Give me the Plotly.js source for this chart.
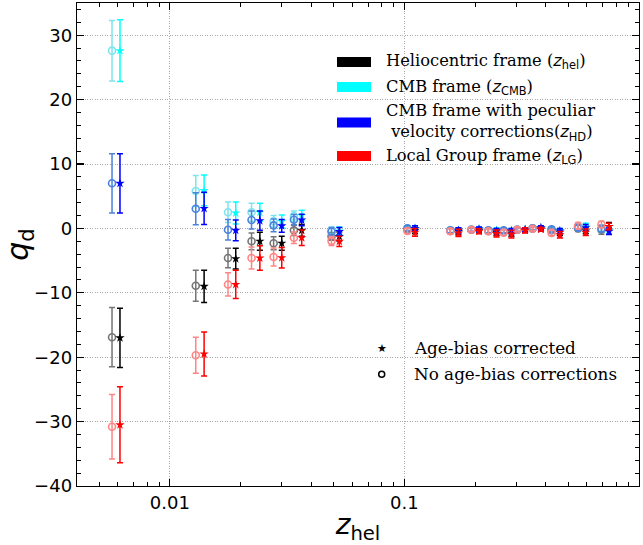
<!DOCTYPE html>
<html>
<head>
<meta charset="utf-8">
<script src="https://cdn.plot.ly/plotly-3.0.1.min.js"></script>
<style>html,body{margin:0;padding:0;background:#fff;}#chart{width:643px;height:545px;}</style>
</head>
<body>
<div id="chart"></div>
<script>
// redshift bins (no age-bias circles slightly left, age-bias stars slightly right)
const zCircle = [0.00567, 0.0129, 0.0177, 0.0223, 0.0277, 0.0338, 0.0489, 0.103, 0.157, 0.193, 0.228, 0.265, 0.303, 0.352, 0.424, 0.55, 0.692];
const zStar   = [0.00613, 0.0140, 0.0191, 0.0242, 0.0300, 0.0365, 0.0528, 0.111, 0.170, 0.208, 0.247, 0.286, 0.327, 0.382, 0.460, 0.593, 0.745];

// Heliocentric frame
const helNoAge    = [-16.9, -8.9, -4.6, -2.0, -2.3, -0.3, -1.24, -0.2, -0.4, -0.2, -0.4, -0.5, -0.2, 0.0, -0.3, 0.0, -0.2];
const helNoAgeErr = [4.6, 2.4, 1.5, 1.3, 1.0, 0.8, 0.6, 0.4, 0.4, 0.3, 0.4, 0.4, 0.3, 0.3, 0.4, 0.5, 0.7];
const helAge      = [-17.0, -9.0, -4.7, -2.0, -2.3, -0.3, -1.24, -0.3, -0.5, -0.3, -0.6, -0.7, -0.2, -0.1, -0.6, -0.3, 0.3];
const helAgeErr   = [4.6, 2.5, 1.6, 1.4, 1.1, 0.9, 0.7, 0.5, 0.5, 0.3, 0.5, 0.5, 0.3, 0.3, 0.5, 0.5, 0.6];

// CMB frame
const cmbNoAge    = [27.6, 5.8, 2.5, 2.5, 1.1, 1.9, -0.4, 0.0, -0.3, -0.2, -0.4, -0.4, -0.2, 0.0, -0.2, 0.2, 0.0];
const cmbNoAgeErr = [4.7, 2.4, 1.6, 1.4, 0.9, 0.8, 0.6, 0.4, 0.4, 0.3, 0.4, 0.4, 0.3, 0.3, 0.4, 0.5, 0.5];
const cmbAge      = [27.6, 5.9, 2.4, 2.5, 1.1, 2.0, -0.4, 0.0, -0.3, -0.1, -0.3, -0.4, -0.2, 0.1, -0.4, 0.3, -0.3];
const cmbAgeErr   = [4.8, 2.4, 1.7, 1.4, 1.0, 0.8, 0.6, 0.4, 0.4, 0.3, 0.4, 0.4, 0.3, 0.3, 0.4, 0.5, 0.5];

// CMB frame with peculiar velocity corrections
const hdNoAge     = [7.0, 3.05, -0.2, 1.3, 0.47, 1.35, -0.47, 0.0, -0.3, -0.2, -0.3, -0.3, -0.2, 0.0, -0.15, 0.1, -0.05];
const hdNoAgeErr  = [4.6, 2.5, 1.6, 1.4, 1.0, 0.8, 0.6, 0.4, 0.4, 0.3, 0.4, 0.4, 0.3, 0.3, 0.4, 0.5, 0.5];
const hdAge       = [7.0, 3.1, -0.3, 1.2, 0.4, 1.3, -0.47, 0.0, -0.3, -0.1, -0.4, -0.4, -0.2, 0.1, -0.4, 0.1, -0.45];
const hdAgeErr    = [4.6, 2.5, 1.6, 1.5, 1.0, 0.9, 0.6, 0.4, 0.4, 0.3, 0.4, 0.4, 0.3, 0.3, 0.4, 0.5, 0.5];

// Local Group frame
const lgNoAge     = [-30.8, -19.7, -8.7, -4.6, -4.45, -1.45, -1.97, -0.4, -0.45, -0.2, -0.45, -0.65, -0.2, -0.05, -0.7, 0.4, 0.6];
const lgNoAgeErr  = [5.0, 2.8, 1.8, 1.7, 1.4, 0.9, 0.7, 0.4, 0.4, 0.3, 0.4, 0.4, 0.3, 0.3, 0.4, 0.5, 0.5];
const lgAge       = [-30.5, -19.5, -8.7, -4.6, -4.55, -1.45, -2.0, -0.6, -0.7, -0.45, -0.8, -0.9, -0.3, -0.15, -1.0, -0.6, 0.3];
const lgAgeErr    = [5.9, 3.4, 2.2, 1.9, 1.6, 1.2, 0.8, 0.6, 0.55, 0.4, 0.55, 0.6, 0.4, 0.3, 0.5, 0.5, 0.5];

const frames = [
  {no: helNoAge, noErr: helNoAgeErr, age: helAge, ageErr: helAgeErr, light: '#757575', dark: '#000000'},
  {no: cmbNoAge, noErr: cmbNoAgeErr, age: cmbAge, ageErr: cmbAgeErr, light: '#7fe3ef', dark: '#00ffff'},
  {no: hdNoAge,  noErr: hdNoAgeErr,  age: hdAge,  ageErr: hdAgeErr,  light: '#4a82dc', dark: '#0000ff'},
  {no: lgNoAge,  noErr: lgNoAgeErr,  age: lgAge,  ageErr: lgAgeErr,  light: '#ff8585', dark: '#ff0000'}
];

const traces = [];
frames.forEach(f => {
  traces.push({
    x: zCircle, y: f.no, type: 'scatter', mode: 'markers', showlegend: false,
    marker: {symbol: 'circle-open', size: 7, color: f.light, line: {width: 1.6, color: f.light}},
    error_y: {type: 'data', array: f.noErr, visible: true, color: f.light, thickness: 1.5, width: 3}
  });
  traces.push({
    x: zStar, y: f.age, type: 'scatter', mode: 'markers', showlegend: false,
    marker: {symbol: 'star', size: 7, color: f.dark, line: {width: 0}},
    error_y: {type: 'data', array: f.ageErr, visible: true, color: f.dark, thickness: 1.5, width: 3}
  });
});

// geometry helpers for legend placement (paper coords)
const L = 77, R = 639, T = 3, B = 486;
const px = v => (v - L) / (R - L);
const py = v => (B - v) / (B - T);

const legendColors = ['#000000', '#00ffff', '#0000ff', '#ff0000'];
const legendText = [
  'Heliocentric frame (<span style="font-family:DejaVu Sans"><i>z</i><sub>hel</sub></span>)',
  'CMB frame (<span style="font-family:DejaVu Sans"><i>z</i><sub>CMB</sub></span>)',
  'CMB frame with peculiar<br>&nbsp;velocity corrections(<span style="font-family:DejaVu Sans"><i>z</i><sub>HD</sub></span>)',
  'Local Group frame (<span style="font-family:DejaVu Sans"><i>z</i><sub>LG</sub></span>)'
];
const legendY = [62, 87, 122.5, 156];

const shapes = [];
const annotations = [];
legendColors.forEach((c, i) => {
  shapes.push({type: 'rect', xref: 'paper', yref: 'paper', x0: px(337), x1: px(371), y0: py(legendY[i] - 5), y1: py(legendY[i] + 5),
    fillcolor: c, line: {width: 0}});
  annotations.push({xref: 'paper', yref: 'paper', x: px(384), y: py(legendY[i]), xanchor: 'left', yanchor: 'middle',
    text: legendText[i], showarrow: false, align: 'left', font: {family: 'DejaVu Serif', size: 16.3, color: '#000'}});
});
// marker legend
annotations.push({xref: 'paper', yref: 'paper', x: px(381.7), y: py(348.3), xanchor: 'center', yanchor: 'middle',
  text: '★', showarrow: false, font: {family: 'DejaVu Sans', size: 11, color: '#000'}});
shapes.push({type: 'circle', xref: 'paper', yref: 'paper', xsizemode: 'pixel', ysizemode: 'pixel',
  xanchor: px(381.7), yanchor: py(374.3), x0: -3, x1: 3, y0: -3, y1: 3, line: {color: '#000', width: 1.5}, fillcolor: 'rgba(0,0,0,0)'});
annotations.push({xref: 'paper', yref: 'paper', x: px(412), y: py(348.3), xanchor: 'left', yanchor: 'middle',
  text: 'Age-bias corrected', showarrow: false, font: {family: 'DejaVu Serif', size: 16.8, color: '#000'}});
annotations.push({xref: 'paper', yref: 'paper', x: px(412), y: py(374.3), xanchor: 'left', yanchor: 'middle',
  text: 'No age-bias corrections', showarrow: false, font: {family: 'DejaVu Serif', size: 16.8, color: '#000'}});

const xMinor = [];
[0.001, 0.01, 0.1].forEach(d => { for (let k = 2; k <= 9; k++) xMinor.push(d * k); });

const layout = {
  width: 643, height: 545,
  margin: {l: L, r: 643 - R, t: T, b: 545 - B},
  paper_bgcolor: '#fff', plot_bgcolor: '#fff',
  font: {family: 'DejaVu Sans', size: 18, color: '#000'},
  showlegend: false,
  xaxis: {
    type: 'log', range: [Math.log10(0.00402), 0.0002],
    tickmode: 'array', tickvals: [0.01, 0.1, 1], ticktext: ['0.01', '0.1', '1'],
    ticks: 'inside', ticklen: 7, tickwidth: 1.2, tickcolor: '#000',
    showline: true, linecolor: '#000', linewidth: 1.3, mirror: 'allticks',
    showgrid: true, gridcolor: '#a8a8a8', griddash: '1px,1.5px', gridwidth: 1,
    zeroline: false, tickfont: {size: 18},
    minor: {tickmode: 'array', tickvals: xMinor, ticks: 'inside', ticklen: 4, tickwidth: 1, tickcolor: '#000', showgrid: false},
    title: {text: '<i>z</i><sub>hel</sub>', font: {size: 28}, standoff: 4}
  },
  yaxis: {
    range: [-40, 35], tickmode: 'linear', tick0: 0, dtick: 10,
    ticks: 'inside', ticklen: 7, tickwidth: 1.2, tickcolor: '#000',
    showline: true, linecolor: '#000', linewidth: 1.3, mirror: 'allticks',
    showgrid: true, gridcolor: '#a8a8a8', griddash: '1px,1.5px', gridwidth: 1,
    zeroline: false, tickfont: {size: 18},
    minor: {dtick: 2, ticks: 'inside', ticklen: 4, tickwidth: 1, tickcolor: '#000', showgrid: false},
    title: {text: '<i>q</i><sub>d</sub>', font: {size: 30}, standoff: 6}
  },
  shapes: shapes,
  annotations: annotations
};

Plotly.newPlot('chart', traces, layout, {displayModeBar: false, staticPlot: true});
</script>
</body>
</html>
